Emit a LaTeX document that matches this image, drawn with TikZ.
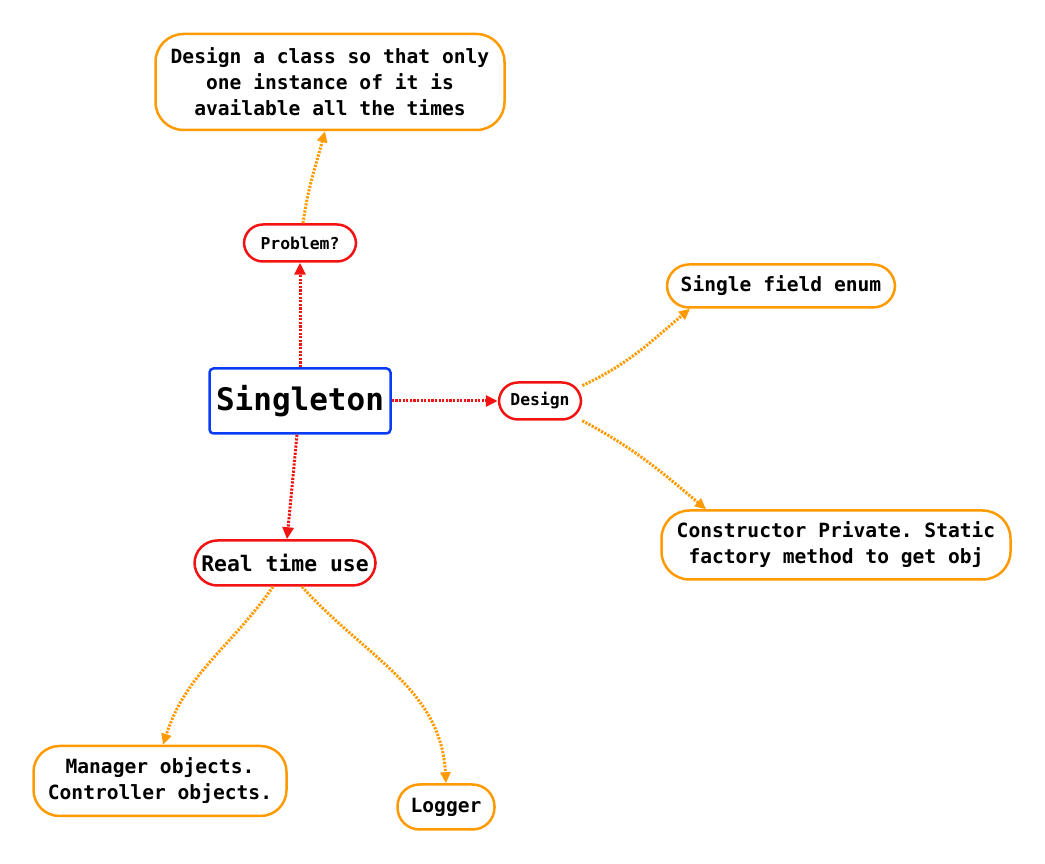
\documentclass[tikz,border=0pt]{standalone}
\usepackage{fontspec}
\setmonofont{DejaVu Sans Mono}
\usetikzlibrary{arrows.meta}
\definecolor{mmorange}{HTML}{FF9A00}
\definecolor{mmred}{HTML}{F21212}
\definecolor{mmblue}{HTML}{0A3CF5}

\begin{document}
\begin{tikzpicture}[x=1pt,y=1pt,
  topic/.style={draw=mmred,line width=2.5pt,rounded corners=19pt,inner sep=0pt,
    font=\ttfamily\bfseries\fontsize{16.4}{20}\selectfont},
  leaf/.style={draw=mmorange,line width=2.5pt,rounded corners=24pt,inner sep=0pt,
    align=center,font=\ttfamily\bfseries\fontsize{19.6}{26}\selectfont},
  redlink/.style={draw=mmred,line width=3pt,dash pattern=on 2.2pt off 1.4pt,
    -{Triangle[length=12pt,width=11pt]}},
  orangelink/.style={draw=mmorange,line width=3pt,dash pattern=on 2.2pt off 1.4pt,
    -{Triangle[length=11pt,width=10pt]}}]
\useasboundingbox (0,0) rectangle (1045,864);

% centre and branches
\node[draw=mmblue,line width=2.5pt,rounded corners=4pt,minimum width=181pt,minimum height=65pt,
  inner sep=0pt,font=\ttfamily\bfseries\fontsize{31}{36}\selectfont] (singleton) at (300,463) {Singleton};
\node[topic,minimum width=112pt,minimum height=37pt] (problem) at (300,621) {Problem?};
\node[topic,minimum width=82pt,minimum height=37pt] (design) at (540,463) {Design};
\node[topic,rounded corners=23pt,minimum width=181pt,minimum height=45pt,
  font=\ttfamily\bfseries\fontsize{21.4}{26}\selectfont] (realtime) at (285,301) {Real time use};

% leaves
\node[leaf,rounded corners=28pt,minimum width=349pt,minimum height=96pt] (goal) at (330,782)
  {Design a class so that only\\one instance of it is\\available all the times};
\node[leaf,rounded corners=22pt,minimum width=228pt,minimum height=43pt] (enum) at (781,578) {Single field enum};
\node[leaf,rounded corners=28pt,minimum width=349pt,minimum height=69pt] (ctor) at (836,319)
  {Constructor Private. Static\\factory method to get obj};
\node[leaf,rounded corners=26pt,minimum width=253pt,minimum height=70pt] (manager) at (160,83)
  {Manager objects.\\Controller objects.};
\node[leaf,rounded corners=22pt,minimum width=97pt,minimum height=45pt] (logger) at (446,57) {Logger};

\draw[redlink] (singleton.north) -- (problem.south);
\draw[redlink] (singleton.east) -- (design.west);
\draw[redlink] ([xshift=-3pt]singleton.south) -- ([xshift=2pt]realtime.north);

\draw[orangelink] ([xshift=3pt]problem.north) to[out=82,in=-105] ([xshift=-5pt]goal.south);
\draw[orangelink] (design.20) to[out=25,in=-140] ([xshift=-91pt]enum.south);
\draw[orangelink] (design.-25) to[out=-28,in=140] ([xshift=-130pt]ctor.north);
\draw[orangelink] ([xshift=-12pt]realtime.south) to[out=-125,in=72] ([xshift=3pt]manager.north);
\draw[orangelink] ([xshift=17pt]realtime.south) to[out=-48,in=93] (logger.north);
\end{tikzpicture}
\end{document}
